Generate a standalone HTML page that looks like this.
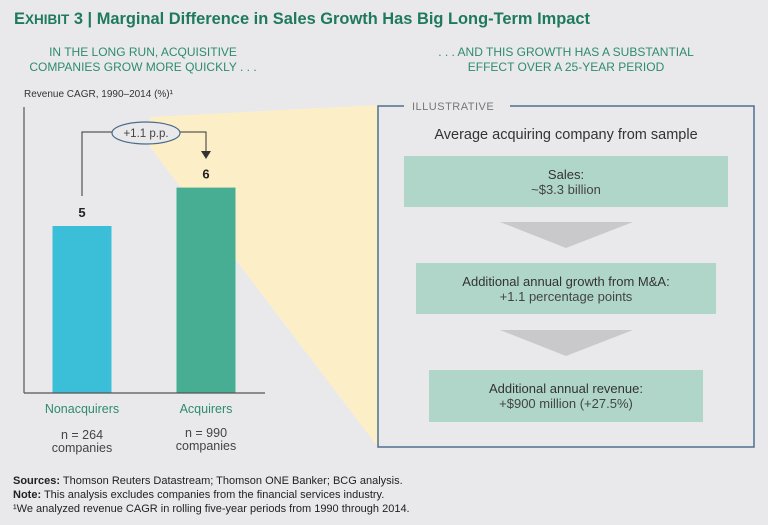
<!DOCTYPE html>
<html><head><meta charset="utf-8">
<style>
html,body{margin:0;padding:0;background:#e9e9eb;}
svg{display:block;font-family:"Liberation Sans",sans-serif;}
</style></head>
<body>
<svg id="chart" width="768" height="525" viewBox="0 0 768 525">
<rect x="0" y="0" width="768" height="525" fill="#e9e9eb"/>
<text x="14" y="24" font-size="17" font-weight="bold" fill="#1f7a5c" textLength="576" lengthAdjust="spacingAndGlyphs">E<tspan font-size="14">XHIBIT</tspan> 3 | Marginal Difference in Sales Growth Has Big Long-Term Impact</text>
<g font-size="12" fill="#2e8c6c" text-anchor="middle">
<text x="143" y="56">IN THE LONG RUN, ACQUISITIVE</text>
<text x="143" y="71">COMPANIES GROW MORE QUICKLY . . .</text>
</g>
<g font-size="12" fill="#2e8c6c" text-anchor="middle">
<text x="566" y="56">. . . AND THIS GROWTH HAS A SUBSTANTIAL</text>
<text x="566" y="71">EFFECT OVER A 25-YEAR PERIOD</text>
</g>
<text x="24" y="97" font-size="10" fill="#333">Revenue CAGR, 1990–2014 (%)¹</text>
<polygon points="150,117 378,105 378,447 150,147" fill="#fcefc8"/>
<line x1="24" y1="107" x2="24" y2="393" stroke="#555" stroke-width="1.2"/>
<g id="bars"></g>
<line x1="24" y1="393" x2="265" y2="393" stroke="#555" stroke-width="1.2"/>
<g id="connector">
<polyline points="82,196 82,132 112,132" fill="none" stroke="#333" stroke-width="1"/>
<polyline points="179,132 206,132 206,152" fill="none" stroke="#333" stroke-width="1"/>
<polygon points="201,151 211,151 206,159" fill="#333"/>
<ellipse cx="146" cy="133" rx="34" ry="11" fill="#e9e9eb" stroke="#4a6b8a" stroke-width="1.2"/>
<text x="146" y="137" font-size="11.5" fill="#444" text-anchor="middle">+1.1 p.p.</text>
</g>
<g>
<polyline points="404,106 378,106 378,447 754,447 754,106 510,106" fill="none" stroke="#4f6f8f" stroke-width="1.5"/>
<text x="412" y="110" font-size="11" fill="#777" letter-spacing="0.5">ILLUSTRATIVE</text>
<text x="566" y="139" font-size="14.5" fill="#333" text-anchor="middle">Average acquiring company from sample</text>
<rect x="404" y="156" width="324" height="51" fill="#b0d6c9"/>
<text x="566" y="179" font-size="13" fill="#333" text-anchor="middle">Sales:</text>
<text x="566" y="194" font-size="13" fill="#444" text-anchor="middle">~$3.3 billion</text>
<polygon points="500,222 633,222 566,248" fill="#c9c9cc"/>
<rect x="416" y="263" width="300" height="51" fill="#b0d6c9"/>
<text x="566" y="286" font-size="13" fill="#333" text-anchor="middle">Additional annual growth from M&amp;A:</text>
<text x="566" y="301" font-size="13" fill="#444" text-anchor="middle">+1.1 percentage points</text>
<polygon points="500,330 633,330 566,356" fill="#c9c9cc"/>
<rect x="429" y="370" width="274" height="52" fill="#b0d6c9"/>
<text x="566" y="393" font-size="13" fill="#333" text-anchor="middle">Additional annual revenue:</text>
<text x="566" y="408" font-size="13" fill="#444" text-anchor="middle">+$900 million (+27.5%)</text>
</g>
<g font-size="11" fill="#222">
<text x="13" y="484"><tspan font-weight="bold">Sources:</tspan> Thomson Reuters Datastream; Thomson ONE Banker; BCG analysis.</text>
<text x="13" y="498"><tspan font-weight="bold">Note:</tspan> This analysis excludes companies from the financial services industry.</text>
<text x="13" y="512">¹We analyzed revenue CAGR in rolling five-year periods from 1990 through 2014.</text>
</g>
</svg>
<script>
const categories = ["Nonacquirers", "Acquirers"];
const values = [5, 6.15];
const valueLabels = ["5", "6"];
const sampleSizes = ["n = 264", "n = 990"];

const baseY = 393, unit = 33.4;
function yScale(v){ return baseY - v * unit; }
function xCenter(i){ return 82 + i * 124; }
const barW = 59;
const colors = ["#3bbfd9", "#47ad93"];
const ns = "http://www.w3.org/2000/svg";
const g = document.getElementById("bars");
values.forEach(function(v, i){
  const r = document.createElementNS(ns, "rect");
  r.setAttribute("x", xCenter(i) - barW/2);
  r.setAttribute("y", yScale(v));
  r.setAttribute("width", barW);
  r.setAttribute("height", baseY - yScale(v));
  r.setAttribute("fill", colors[i]);
  
  
  g.appendChild(r);
  const t = document.createElementNS(ns, "text");
  t.setAttribute("x", xCenter(i));
  t.setAttribute("y", yScale(v) - 9);
  t.setAttribute("text-anchor", "middle");
  t.setAttribute("font-size", "13");
  t.setAttribute("font-weight", "bold");
  t.setAttribute("fill", "#222");
  t.textContent = valueLabels[i];
  
  
  g.appendChild(t);
  const c = document.createElementNS(ns, "text");
  c.setAttribute("x", xCenter(i));
  c.setAttribute("y", 413);
  c.setAttribute("text-anchor", "middle");
  c.setAttribute("font-size", "12.5");
  c.setAttribute("fill", "#2e8c6c");
  c.textContent = categories[i];
  
  
  g.appendChild(c);
  const n1 = document.createElementNS(ns, "text");
  n1.setAttribute("x", xCenter(i));
  n1.setAttribute("y", 439 - i*2);
  n1.setAttribute("text-anchor", "middle");
  n1.setAttribute("font-size", "12.5");
  n1.setAttribute("fill", "#444");
  n1.textContent = sampleSizes[i];
  
  
  g.appendChild(n1);
  const n2 = document.createElementNS(ns, "text");
  n2.setAttribute("x", xCenter(i));
  n2.setAttribute("y", 452 - i*2);
  n2.setAttribute("text-anchor", "middle");
  n2.setAttribute("font-size", "12.5");
  n2.setAttribute("fill", "#444");
  n2.textContent = "companies";
  
  
  g.appendChild(n2);
});
</script>
</body></html>
